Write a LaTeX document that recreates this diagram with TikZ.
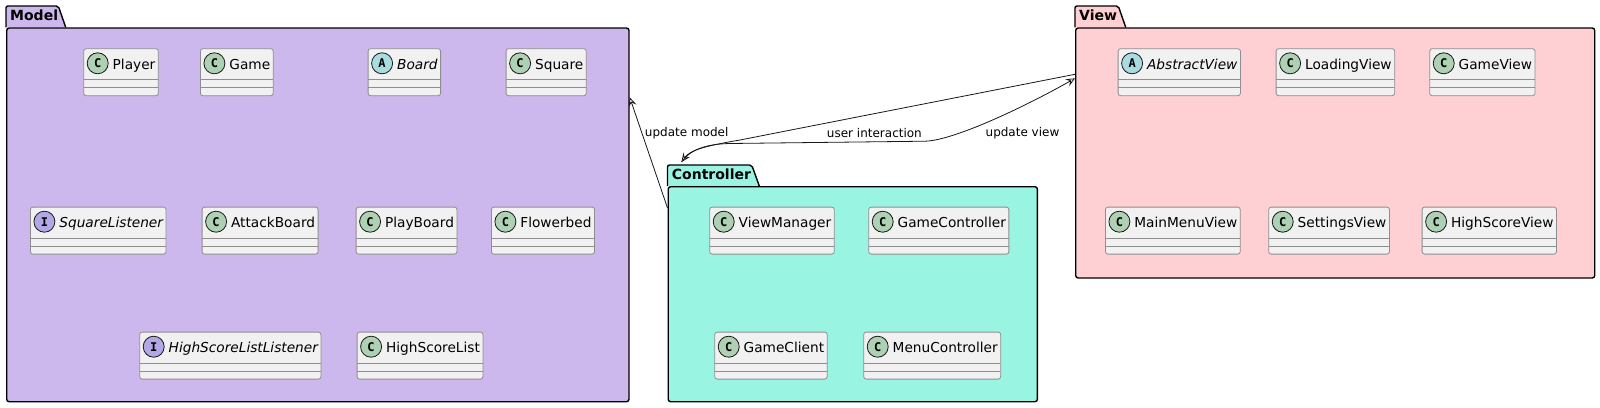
\documentclass[tikz,border=0pt]{standalone}
\usepackage{fontspec}
\setmainfont{DejaVu Sans}
\newfontfamily\spotfont{DejaVu Sans Mono}
\usetikzlibrary{arrows.meta}
\definecolor{modelc}{HTML}{CDB8EE}
\definecolor{viewc}{HTML}{FFD0D3}
\definecolor{ctrlc}{HTML}{99F5E2}
\definecolor{clsfill}{HTML}{F1F1F1}
\definecolor{clsline}{HTML}{8E8E8E}
\definecolor{cfill}{HTML}{ADD1B2}
\definecolor{afill}{HTML}{A9DCDF}
\definecolor{ifill}{HTML}{B4A7E5}
\definecolor{ink}{HTML}{181818}
\begin{document}
\begin{tikzpicture}[x=1pt, y=-1pt,
    pkg/.style={draw=black, line width=1.4pt, rounded corners=2.5pt, anchor=north west, inner sep=0pt},
    tab/.style={draw=black, line width=1.4pt, rounded corners=2pt},
    pkgname/.style={anchor=base west, inner sep=0pt, font=\fontsize{14}{16}\selectfont\bfseries},
    cls/.style={draw=clsline, fill=clsfill, line width=0.8pt, rounded corners=2.5pt, anchor=north west,
        inner xsep=3pt, inner ysep=0pt, text height=20.5pt, text depth=26.5pt,
        font=\fontsize{13.7}{16}\selectfont, execute at begin node=\hspace*{26pt},
        path picture={\draw[clsline, line width=0.8pt]
            ([yshift=-31pt]path picture bounding box.north west) -- ([yshift=-31pt]path picture bounding box.north east)
            ([yshift=-39pt]path picture bounding box.north west) -- ([yshift=-39pt]path picture bounding box.north east);}},
    abs/.style={cls, font=\fontsize{13.7}{16}\selectfont\itshape},
    spot/.style={circle, draw=ink, line width=0.8pt, inner sep=0pt, minimum size=21pt, font=\spotfont\fontsize{12}{12}\selectfont\bfseries},
    ck/.style={spot, fill=cfill}, ak/.style={spot, fill=afill}, ik/.style={spot, fill=ifill},
    dep/.style={draw=ink, line width=0.8pt, -{Stealth[open, length=9pt, width=8pt, inset=3.5pt]}},
    lbl/.style={inner sep=0pt, font=\fontsize{12}{14}\selectfont}]
\useasboundingbox (0,0) rectangle (1600,407);
% packages
\fill[white] (0,0) rectangle (1600,407);
\draw[tab, fill=modelc] (6,27.3) -- (6,6) -- (58.3,6) -- (65.7,27.3);
\node[pkg, fill=modelc, minimum width=622.3, minimum height=373.7] (model) at (6,27.3) {};
\node[pkgname] (modeltitle) at (10,20.6) {Model};
\draw[tab, fill=viewc] (1075,27.3) -- (1075,6) -- (1118.3,6) -- (1125.7,27.3);
\node[pkg, fill=viewc, minimum width=519, minimum height=250] (view) at (1075,27.3) {};
\node[pkgname] (viewtitle) at (1079,20.6) {View};
\draw[tab, fill=ctrlc] (667.5,186) -- (667.5,165) -- (751.7,165) -- (759.3,186);
\node[pkg, fill=ctrlc, minimum width=369.2, minimum height=215] (ctrl) at (667.5,186) {};
\node[pkgname] (ctrltitle) at (671.7,179.4) {Controller};
% dependencies
\draw[dep] ([yshift=-22pt]ctrl.north west) -- ([yshift=-70pt]model.north east);
\draw[dep] ([yshift=-47pt]view.north west) -- (740,140) .. controls (705,146) and (690,150) .. ([xshift=14pt,yshift=24pt]ctrl.north west);
\draw[dep] ([xshift=14pt,yshift=24pt]ctrl.north west) .. controls (690,150) and (705,144) .. (730,143.5) -- (925,141.2) .. controls (955,140.5) and (1030,104) .. ([yshift=-51pt]view.north west);
\node[lbl] (lblmodel) at (686.7,132.8) {update model};
\node[lbl] (lbluser) at (874.4,132.8) {user interaction};
\node[lbl] (lblview) at (1022.5,132.8) {update view};
% model classes
\node[cls] (player) at (83.3,48.3) {Player}; \node[ck] (playerk) at ([shift={(14.4pt,-15pt)}]player.north west) {C};
\node[cls] (game) at (200,48.3) {Game}; \node[ck] (gamek) at ([shift={(14.4pt,-15pt)}]game.north west) {C};
\node[abs] (board) at (367.7,48.3) {Board}; \node[ak] (boardk) at ([shift={(14.4pt,-15pt)}]board.north west) {A};
\node[cls] (square) at (505.7,48.3) {Square}; \node[ck] (squarek) at ([shift={(14.4pt,-15pt)}]square.north west) {C};
\node[abs] (sqlist) at (30,206.7) {SquareListener}; \node[ik] (sqlistk) at ([shift={(14.4pt,-15pt)}]sqlist.north west) {I};
\node[cls] (attack) at (201.7,206.7) {AttackBoard}; \node[ck] (attackk) at ([shift={(14.4pt,-15pt)}]attack.north west) {C};
\node[cls] (play) at (355.7,206.7) {PlayBoard}; \node[ck] (playk) at ([shift={(14.4pt,-15pt)}]play.north west) {C};
\node[cls] (flower) at (491,206.7) {Flowerbed}; \node[ck] (flowerk) at ([shift={(14.4pt,-15pt)}]flower.north west) {C};
\node[abs] (hslist) at (139.3,331.7) {HighScoreListListener}; \node[ik] (hslistk) at ([shift={(14.4pt,-15pt)}]hslist.north west) {I};
\node[cls] (hs) at (356.7,331.7) {HighScoreList}; \node[ck] (hsk) at ([shift={(14.4pt,-15pt)}]hs.north west) {C};
% controller classes
\node[cls] (vmgr) at (709.3,206.7) {ViewManager}; \node[ck] (vmgrk) at ([shift={(14.4pt,-15pt)}]vmgr.north west) {C};
\node[cls] (gctrl) at (868.3,206.7) {GameController}; \node[ck] (gctrlk) at ([shift={(14.4pt,-15pt)}]gctrl.north west) {C};
\node[cls] (client) at (714.3,331.7) {GameClient}; \node[ck] (clientk) at ([shift={(14.4pt,-15pt)}]client.north west) {C};
\node[cls] (mctrl) at (863.3,331.7) {MenuController}; \node[ck] (mctrlk) at ([shift={(14.4pt,-15pt)}]mctrl.north west) {C};
% view classes
\node[abs] (absv) at (1117.7,48.3) {AbstractView}; \node[ak] (absvk) at ([shift={(14.4pt,-15pt)}]absv.north west) {A};
\node[cls] (loadv) at (1275.7,48.3) {LoadingView}; \node[ck] (loadvk) at ([shift={(14.4pt,-15pt)}]loadv.north west) {C};
\node[cls] (gamev) at (1429.3,48.3) {GameView}; \node[ck] (gamevk) at ([shift={(14.4pt,-15pt)}]gamev.north west) {C};
\node[cls] (menuv) at (1105,206.7) {MainMenuView}; \node[ck] (menuvk) at ([shift={(14.4pt,-15pt)}]menuv.north west) {C};
\node[cls] (setv) at (1268.3,206.7) {SettingsView}; \node[ck] (setvk) at ([shift={(14.4pt,-15pt)}]setv.north west) {C};
\node[cls] (hsv) at (1421.7,206.7) {HighScoreView}; \node[ck] (hsvk) at ([shift={(14.4pt,-15pt)}]hsv.north west) {C};
\end{tikzpicture}
\end{document}
